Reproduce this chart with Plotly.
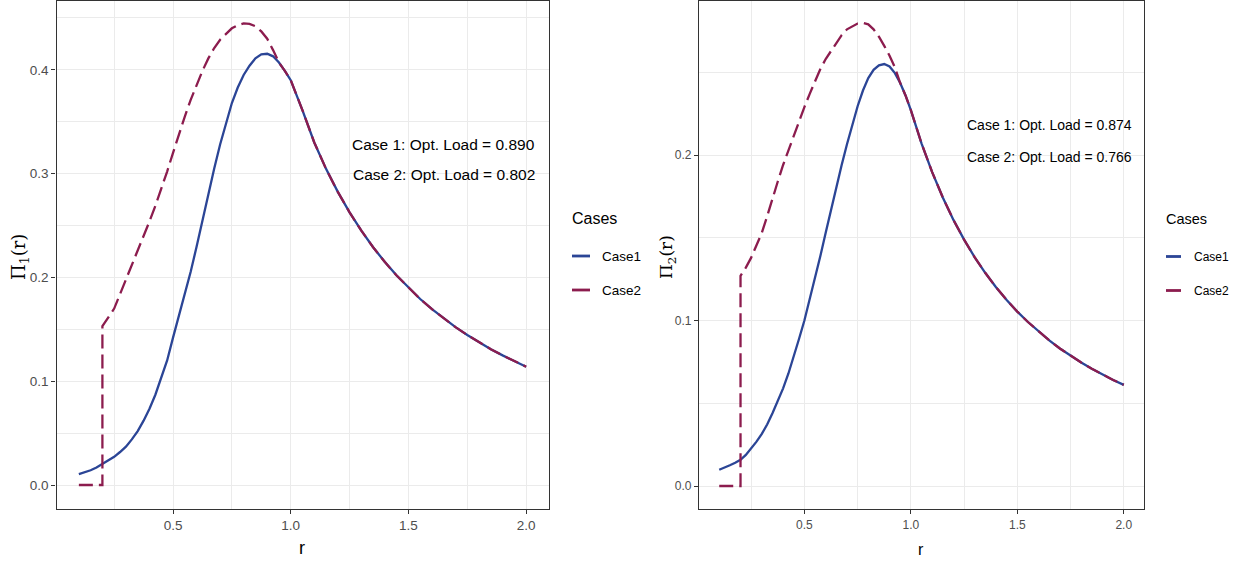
import plotly.graph_objects as go

# ---- data -------------------------------------------------------------
# load grid for Case1 curves
r_case1 = [0.100, 0.125, 0.150, 0.175, 0.200, 0.225, 0.250, 0.275, 0.300, 0.325,
           0.350, 0.375, 0.400, 0.425, 0.450, 0.475, 0.500, 0.525, 0.550, 0.575,
           0.600, 0.625, 0.650, 0.675, 0.700, 0.725, 0.750, 0.775, 0.800, 0.825,
           0.850, 0.875, 0.900, 0.925, 0.950, 0.975, 1.000, 1.05, 1.10, 1.15,
           1.20, 1.25, 1.30, 1.35, 1.40, 1.45, 1.50, 1.55, 1.60, 1.65,
           1.70, 1.75, 1.80, 1.85, 1.90, 1.95, 2.00]

# load grid for Case2 curves (zero up to r = 0.2, then a jump)
r_case2 = [0.100, 0.200, 0.200, 0.225, 0.250, 0.275, 0.300, 0.325,
           0.350, 0.375, 0.400, 0.425, 0.450, 0.475, 0.500, 0.525, 0.550, 0.575,
           0.600, 0.625, 0.650, 0.675, 0.700, 0.725, 0.750, 0.775, 0.800, 0.825,
           0.850, 0.875, 0.900, 0.925, 0.950, 0.975, 1.000, 1.05, 1.10, 1.15,
           1.20, 1.25, 1.30, 1.35, 1.40, 1.45, 1.50, 1.55, 1.60, 1.65,
           1.70, 1.75, 1.80, 1.85, 1.90, 1.95, 2.00]

pi1_case1 = [0.0105, 0.0122, 0.0142, 0.0168, 0.0200, 0.0234, 0.0272, 0.0318, 0.0370, 0.0440,
             0.0520, 0.0620, 0.0735, 0.0870, 0.1025, 0.1200, 0.1420, 0.1625, 0.1835, 0.2055,
             0.2295, 0.2550, 0.2800, 0.3050, 0.3280, 0.3490, 0.3680, 0.3830, 0.3950, 0.4040,
             0.4110, 0.4150, 0.4155, 0.4130, 0.4070, 0.3990, 0.3900, 0.3610, 0.3300, 0.3046,
             0.2824, 0.2627, 0.2450, 0.2291, 0.2148, 0.2018, 0.1900, 0.1792, 0.1694, 0.1604,
             0.1521, 0.1445, 0.1374, 0.1309, 0.1249, 0.1192, 0.1140]

pi1_case2 = [0.0, 0.0, 0.153, 0.161, 0.170, 0.184, 0.198, 0.212,
             0.225, 0.239, 0.254, 0.269, 0.285, 0.302, 0.320, 0.338, 0.355, 0.371,
             0.386, 0.399, 0.411, 0.421, 0.429, 0.435, 0.440, 0.443, 0.4447, 0.4443,
             0.442, 0.437, 0.430, 0.419, 0.407, 0.3990, 0.3900, 0.3610, 0.3300, 0.3046,
             0.2824, 0.2627, 0.2450, 0.2291, 0.2148, 0.2018, 0.1900, 0.1792, 0.1694, 0.1604,
             0.1521, 0.1445, 0.1374, 0.1309, 0.1249, 0.1192, 0.1140]

pi2_case1 = [0.0098, 0.0110, 0.0125, 0.0140, 0.0158, 0.0188, 0.0225, 0.0268, 0.0315, 0.0372,
             0.0440, 0.0510, 0.0590, 0.0680, 0.0780, 0.0890, 0.1000, 0.1125, 0.1250, 0.1390,
             0.1530, 0.1670, 0.1805, 0.1940, 0.2065, 0.2185, 0.2295, 0.2390, 0.2465, 0.2515,
             0.2542, 0.2550, 0.2535, 0.2495, 0.2435, 0.2360, 0.2272, 0.2071, 0.1897, 0.1744,
             0.1608, 0.1489, 0.1382, 0.1287, 0.1201, 0.1124, 0.1054, 0.0991, 0.0933, 0.0880,
             0.0831, 0.0787, 0.0746, 0.0709, 0.0674, 0.0641, 0.0611]

pi2_case2 = [0.0, 0.0, 0.127, 0.132, 0.138, 0.145, 0.153, 0.163,
             0.174, 0.184, 0.194, 0.203, 0.212, 0.220, 0.229, 0.237, 0.245, 0.252,
             0.258, 0.263, 0.268, 0.2725, 0.276, 0.278, 0.2795, 0.2798, 0.2790, 0.2760,
             0.2715, 0.2660, 0.2600, 0.2530, 0.2435, 0.2360, 0.2272, 0.2071, 0.1897, 0.1744,
             0.1608, 0.1489, 0.1382, 0.1287, 0.1201, 0.1124, 0.1054, 0.0991, 0.0933, 0.0880,
             0.0831, 0.0787, 0.0746, 0.0709, 0.0674, 0.0641, 0.0611]

opt_load_1 = {"Case 1": "0.890", "Case 2": "0.802"}
opt_load_2 = {"Case 1": "0.874", "Case 2": "0.766"}

x_ticks = [0.5, 1.0, 1.5, 2.0]
x_ticktext = ["0.5", "1.0", "1.5", "2.0"]
x_minor = [0.25, 0.75, 1.25, 1.75]
y1_ticks = [0.0, 0.1, 0.2, 0.3, 0.4]
y1_minor = [0.05, 0.15, 0.25, 0.35, 0.45]
y2_ticks = [0.0, 0.1, 0.2]
y2_minor = [0.05, 0.15, 0.25]

# ---- style ------------------------------------------------------------
W, H = 1239, 563
BLUE = "#2B4596"
MAROON = "#8C1C4E"
SANS = "Liberation Sans, Arial, sans-serif"
SERIF = "DejaVu Serif, Liberation Serif, serif"
GRID = "#EBEBEB"
BORDER = "#333333"


def px_x(p):
    return p / W


def px_y(p):
    return 1 - p / H


fig = go.Figure()

for xa, ya, r1, v1, r2, v2 in [("x", "y", r_case1, pi1_case1, r_case2, pi1_case2),
                               ("x2", "y2", r_case1, pi2_case1, r_case2, pi2_case2)]:
    fig.add_trace(go.Scatter(x=r1, y=v1, mode="lines", name="Case1", xaxis=xa, yaxis=ya,
                             line=dict(color=BLUE, width=2.3), showlegend=False))
    fig.add_trace(go.Scatter(x=r2, y=v2, mode="lines", name="Case2", xaxis=xa, yaxis=ya,
                             line=dict(color=MAROON, width=2.3, dash="14px,6px"),
                             showlegend=False))


def xaxis(domain, size):
    return dict(domain=domain, range=[0.005, 2.095], tickmode="array",
                tickvals=x_ticks, ticktext=x_ticktext, showgrid=True, gridcolor=GRID,
                gridwidth=1.4, zeroline=False, showline=True, mirror=True,
                linecolor=BORDER, linewidth=1.3, ticks="outside", ticklen=4,
                tickcolor=BORDER, tickwidth=1,
                tickfont=dict(family=SANS, size=size, color="#4D4D4D"),
                minor=dict(tickmode="array", tickvals=x_minor, showgrid=True,
                           gridcolor=GRID, gridwidth=1.0, ticks=""))


def yaxis(domain, rng, ticks, minor, size, anchor):
    return dict(domain=domain, range=rng, tickmode="array", tickvals=ticks,
                ticktext=[f"{t:.1f}" for t in ticks], showgrid=True, gridcolor=GRID,
                gridwidth=1.4, zeroline=False, showline=True, mirror=True,
                linecolor=BORDER, linewidth=1.3, ticks="outside", ticklen=4,
                tickcolor=BORDER, tickwidth=1, anchor=anchor,
                tickfont=dict(family=SANS, size=size, color="#4D4D4D"),
                minor=dict(tickmode="array", tickvals=minor, showgrid=True,
                           gridcolor=GRID, gridwidth=1.0, ticks=""))


ydom = [px_y(509), px_y(1)]
fig.update_layout(
    width=W, height=H, autosize=False,
    margin=dict(l=0, r=0, t=0, b=0),
    paper_bgcolor="white", plot_bgcolor="white",
    showlegend=False,
    xaxis=dict(**xaxis([px_x(56.5), px_x(548.5)], 13.5), anchor="y"),
    yaxis=yaxis(ydom, [-0.0231, 0.4663], y1_ticks, y1_minor, 13.5, "x"),
    xaxis2=dict(**xaxis([px_x(699), px_x(1144)], 12), anchor="y2"),
    yaxis2=yaxis(ydom, [-0.0139, 0.2931], y2_ticks, y2_minor, 12, "x2"),
)

ann = []
shapes = []

# optimal-load notes inside each panel
for (xr, yr, loads, ys, size) in [("x", "y", opt_load_1, (0.3276, 0.2987), 15.5),
                                  ("x2", "y2", opt_load_2, (0.2180, 0.1990), 14)]:
    for (case, val), yv in zip(loads.items(), ys):
        ann.append(dict(x=1.65, y=yv, xref=xr, yref=yr, showarrow=False,
                        text=f"{case}: Opt. Load = {val}", xanchor="center",
                        yanchor="middle",
                        font=dict(family=SANS, size=size, color="black")))

# axis titles
for (cx, cy, sub, size) in [(20, 257, "1", 18), (667, 257, "2", 17)]:
    ann.append(dict(x=px_x(cx), y=px_y(cy), xref="paper", yref="paper", showarrow=False,
                    text=f"Π<sub>{sub}</sub>(r)", textangle=-90, xanchor="center",
                    yanchor="middle", font=dict(family=SERIF, size=size, color="black")))
for (cx, cy, size) in [(301.5, 548, 18), (921, 549, 16)]:
    ann.append(dict(x=px_x(cx), y=px_y(cy), xref="paper", yref="paper", showarrow=False,
                    text="r", xanchor="center", yanchor="middle",
                    font=dict(family=SANS, size=size, color="black")))

# legends
for (lx, ty, key0, key1, tx, rows, tsize, isize) in [
        (570, 218, 572, 590, 600, (256, 290), 16, 13.5),
        (1164, 219, 1166, 1181, 1191.5, (256.5, 290.5), 14.5, 12)]:
    ann.append(dict(x=px_x(lx), y=px_y(ty), xref="paper", yref="paper", showarrow=False,
                    text="Cases", xanchor="left", yanchor="middle",
                    font=dict(family=SANS, size=tsize, color="black")))
    for name, color, ry in [("Case1", BLUE, rows[0]), ("Case2", MAROON, rows[1])]:
        shapes.append(dict(type="line", xref="paper", yref="paper",
                           x0=px_x(key0), x1=px_x(key1), y0=px_y(ry), y1=px_y(ry),
                           line=dict(color=color, width=2.8)))
        ann.append(dict(x=px_x(tx), y=px_y(ry), xref="paper", yref="paper",
                        showarrow=False, text=name, xanchor="left", yanchor="middle",
                        font=dict(family=SANS, size=isize, color="black")))

fig.update_layout(annotations=ann, shapes=shapes)

fig.write_html("out.html")
